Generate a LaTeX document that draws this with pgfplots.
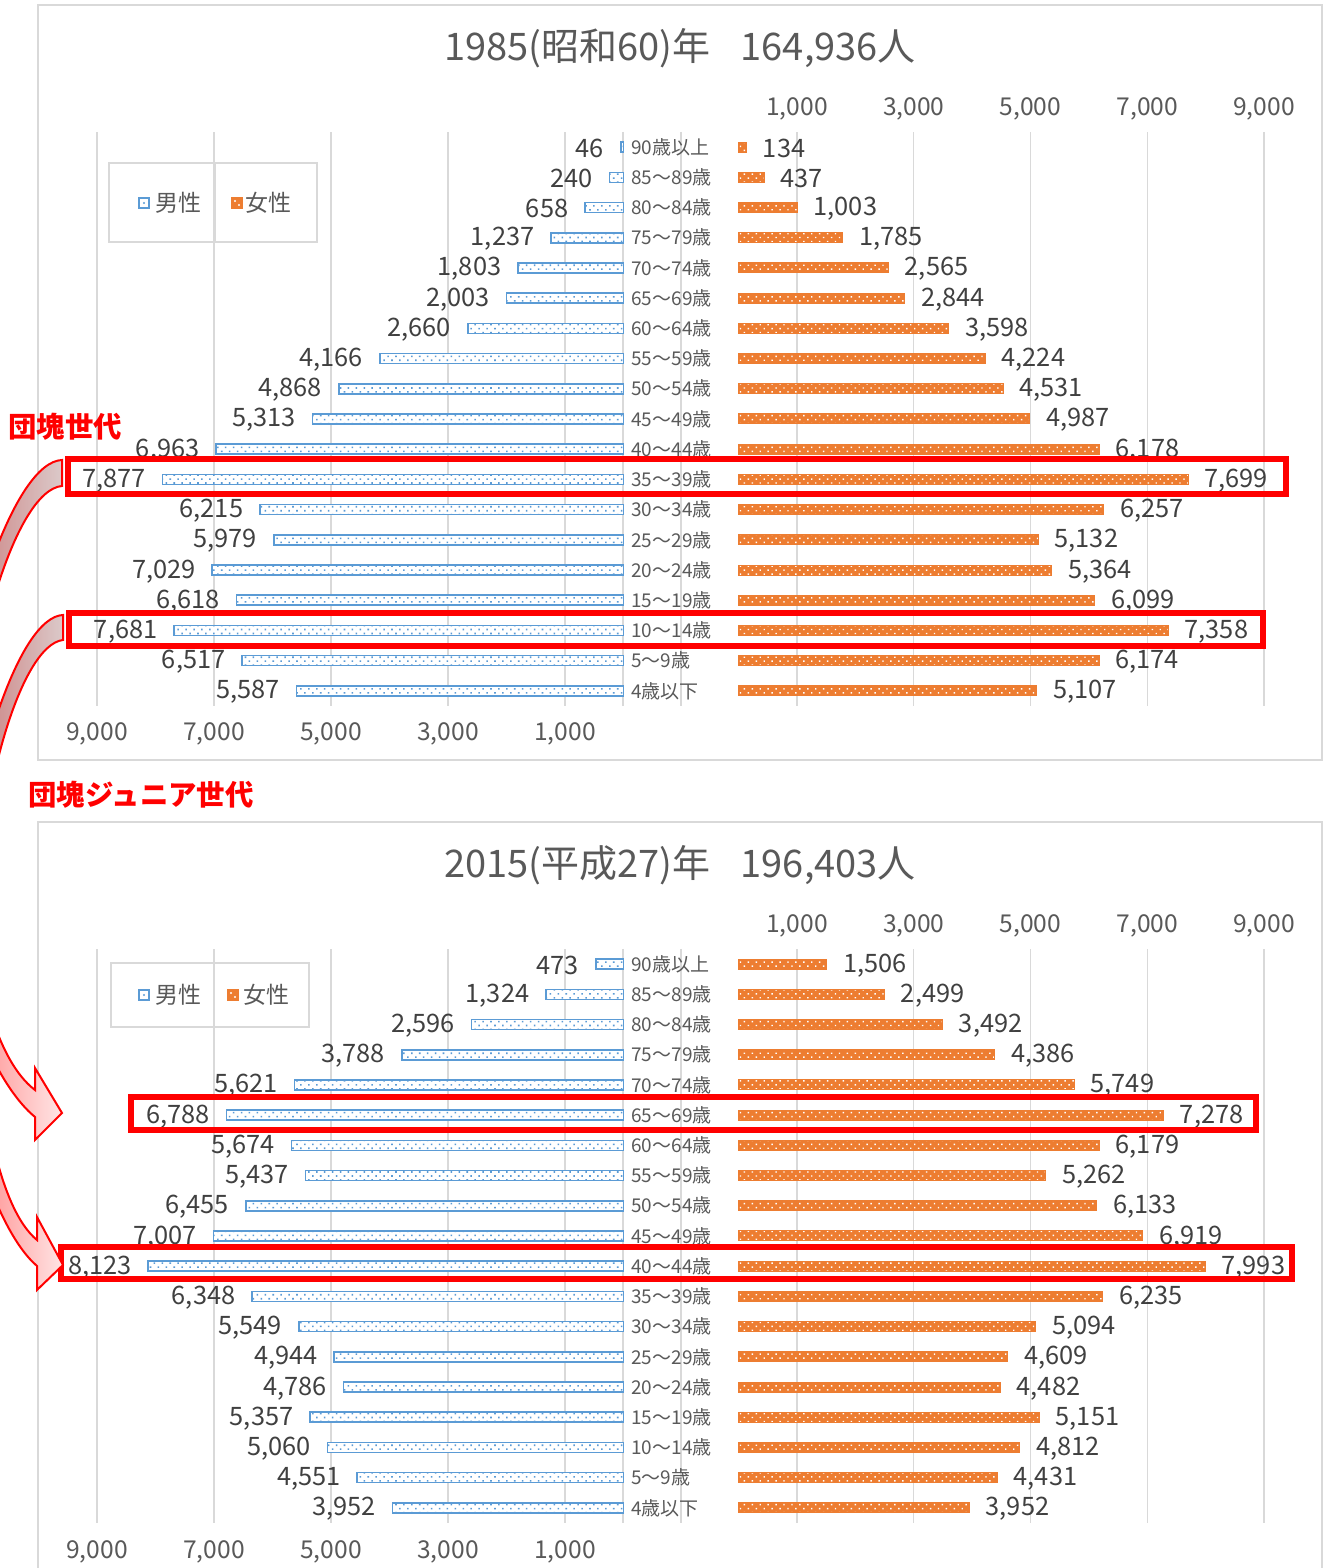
\documentclass[border=0pt]{standalone}
\usepackage{fontspec}
\setmainfont{Noto Sans CJK JP}
\usepackage{pgfplots}
\pgfplotsset{compat=1.18}
\usepackage{pgfplotstable}
\usetikzlibrary{patterns.meta}
\definecolor{mblue}{HTML}{5B9BD5}
\definecolor{forange}{HTML}{ED7D31}
\definecolor{gridgray}{HTML}{D9D9D9}
\definecolor{txtgray}{HTML}{595959}
\definecolor{lblgray}{HTML}{404040}
\definecolor{annred}{HTML}{FF0000}

\pgfplotstableread{
idx m85 f85 m15 f15
0 5587 5107 3952 3952
1 6517 6174 4551 4431
2 7681 7358 5060 4812
3 6618 6099 5357 5151
4 7029 5364 4786 4482
5 5979 5132 4944 4609
6 6215 6257 5549 5094
7 7877 7699 6348 6235
8 6963 6178 8123 7993
9 5313 4987 7007 6919
10 4868 4531 6455 6133
11 4166 4224 5437 5262
12 2660 3598 5674 6179
13 2003 2844 6788 7278
14 1803 2565 5621 5749
15 1237 1785 3788 4386
16 658 1003 2596 3492
17 240 437 1324 2499
18 46 134 473 1506
}\pop

\newcommand\lblfont{\fontsize{12.7}{12.7}\selectfont}
\newcommand\tickfont{\fontsize{12.3}{12.3}\selectfont}
\newcommand\agefont{\fontsize{9.5}{9.5}\selectfont}
\newcommand\titlefont{\fontsize{19}{19}\selectfont}
\newcommand\legfont{\fontsize{11.5}{11.5}\selectfont}
\newcommand\annfont{\bfseries\fontsize{14.2}{14.2}\selectfont}

\pgfplotsset{
  pyr/.style={
    xbar, bar width=5pt, scale only axis, height=287pt,
    ymin=-0.5, ymax=18.5, xmin=0, xmax=9000,
    axis line style={draw=none}, major tick length=0pt,
    xtick={1000,3000,5000,7000,9000},
    xmajorgrids, grid style={draw=gridgray, line width=0.75pt},
    xticklabel style={font=\tickfont, text=txtgray, inner sep=0pt},
    nodes near coords, point meta=x,
    every node near coord/.append style={font=\lblfont, text=lblgray, inner sep=0pt},
    clip=false, anchor=south west,
    /pgf/number format/1000 sep={,},
    /pgf/number format/assume math mode=true,
  },
  male/.style={pyr, width=263.25pt, x dir=reverse,
    ytick={0,...,18},
    yticklabels={4歳以下,5～9歳,10～14歳,15～19歳,20～24歳,25～29歳,30～34歳,35～39歳,40～44歳,45～49歳,50～54歳,55～59歳,60～64歳,65～69歳,70～74歳,75～79歳,80～84歳,85～89歳,90歳以上},
    yticklabel pos=right,
    yticklabel style={anchor=west, font=\agefont, text=txtgray, inner sep=0pt, xshift=3.75pt},
    xticklabel pos=lower,
    xticklabel style={anchor=base, yshift=-17.5pt},
    every node near coord/.append style={anchor=east, xshift=-8pt, yshift=-0.6pt},
  },
  female/.style={pyr, width=262.7pt, ytick=\empty, xticklabel pos=upper,
    xticklabel style={anchor=base, yshift=8pt},
    every node near coord/.append style={anchor=west, xshift=8pt, yshift=-0.6pt},
  },
  mbar/.style={fill=white, draw=mblue, line width=0.8pt,
    postaction={pattern={Dots[distance=2.8pt,radius=0.55pt,angle=45]}, pattern color=mblue}},
  fbar/.style={fill=forange, draw=forange, line width=0.5pt,
    postaction={pattern={Dots[distance=2.8pt,radius=0.5pt,angle=45]}, pattern color=white}},
}

\def\arrowA{(62,460) .. controls (15,462) and (-40,620) .. (-60,800) .. controls (-60,960) and (-10,1080) .. (35,1117) -- (35,1140) -- (62,1113) -- (35,1068) -- (35,1090) .. controls (-5,1060) and (-35,960) .. (-35,800) .. controls (-35,660) and (15,490) .. (62,486) -- cycle}
\def\arrowB{(63,615) .. controls (20,617) and (-30,760) .. (-50,950) .. controls (-50,1100) and (-5,1230) .. (37,1266) -- (37,1290) -- (63,1265) -- (37,1217) -- (37,1240) .. controls (0,1210) and (-25,1100) .. (-25,950) .. controls (-25,800) and (20,645) .. (63,640) -- cycle}

\begin{document}
\begin{tikzpicture}
\useasboundingbox (0,0) rectangle (662pt,784pt);

% frames and titles
\begin{scope}[x=0.5pt,y=-0.5pt,shift={(0pt,784pt)}]
  \draw[gridgray, line width=1pt] (38,5) rectangle (1322,760);
  \draw[gridgray, line width=1pt] (38,822) rectangle (1322,1600);
  \node[font=\titlefont, text=txtgray] at (680,48) {1985(昭和60)年\hspace{0.8em}164,936人};
  \node[font=\titlefont, text=txtgray] at (680,865) {2015(平成27)年\hspace{0.8em}196,403人};
  \foreach \dy in {0,817}{
    \draw[gridgray, line width=0.75pt] (623,132+\dy) -- (623,706+\dy);
    \draw[gridgray, line width=0.75pt] (681,132+\dy) -- (681,706+\dy);
  }
\end{scope}

% 1985
\begin{axis}[male, at={(48.5pt,431pt)}]
  \addplot[mbar] table[x=m85,y=idx] {\pop};
\end{axis}
\begin{axis}[female, at={(369.3pt,431pt)}]
  \addplot[fbar] table[x=f85,y=idx] {\pop};
\end{axis}
% 2015
\begin{axis}[male, at={(48.5pt,22.5pt)}]
  \addplot[mbar] table[x=m15,y=idx] {\pop};
\end{axis}
\begin{axis}[female, at={(369.3pt,22.5pt)}]
  \addplot[fbar] table[x=f15,y=idx] {\pop};
\end{axis}

\begin{scope}[x=0.5pt,y=-0.5pt,shift={(0pt,784pt)}]
  % legends
  \draw[gridgray, line width=1pt] (109,163) rectangle (317,242);
  \draw[gridgray, line width=1pt] (215,163) -- (215,242);
  \draw[gridgray, line width=1pt] (111,963) rectangle (309,1027);
  \draw[gridgray, line width=1pt] (214,963) -- (214,1027);
  \foreach \mx/\fx/\yy/\tm/\tf in {144/237/203/178/268, 144/233/995/178/266}{
    \draw[mblue, fill=white, line width=1pt] (\mx-5,\yy-5) rectangle (\mx+5,\yy+5);
    \fill[mblue] (\mx,\yy) circle (1.2);
    \fill[forange] (\fx-6,\yy-6) rectangle (\fx+6,\yy+6);
    \fill[white] (\fx-2,\yy-2) circle (1.1) (\fx+2,\yy+2) circle (1.1);
    \node[font=\legfont, text=txtgray] at (\tm,\yy) {男性};
    \node[font=\legfont, text=txtgray] at (\tf,\yy) {女性};
  }
  % red boxes
  \draw[annred, line width=3pt] (67.5,459.5) rectangle (1285.5,493.7);
  \draw[annred, line width=3pt] (68.5,613.3) rectangle (1263,646);
  \draw[annred, line width=3pt] (130.7,1097) rectangle (1256,1130);
  \draw[annred, line width=3pt] (60.7,1247.3) rectangle (1291.7,1279.3);
  % labels
  \node[font=\annfont, text=annred] at (65,427) {団塊世代};
  \node[font=\annfont, text=annred] at (141,795) {団塊ジュニア世代};
  % arrows
  \clip (0,0) rectangle (1324,1568);
  \begin{scope}
    \clip (-200,0) rectangle (1324,780);
    \shade[left color=red!45!gray!80, right color=red!20!gray!35] \arrowA;
    \shade[left color=red!45!gray!80, right color=red!20!gray!35] \arrowB;
  \end{scope}
  \begin{scope}
    \clip (-200,780) rectangle (1324,1568);
    \shade[left color=red!55!white, right color=red!10!white] \arrowA;
    \shade[left color=red!55!white, right color=red!10!white] \arrowB;
  \end{scope}
  \draw[annred, line width=1pt] \arrowA;
  \draw[annred, line width=1pt] \arrowB;
\end{scope}
\end{tikzpicture}
\end{document}
